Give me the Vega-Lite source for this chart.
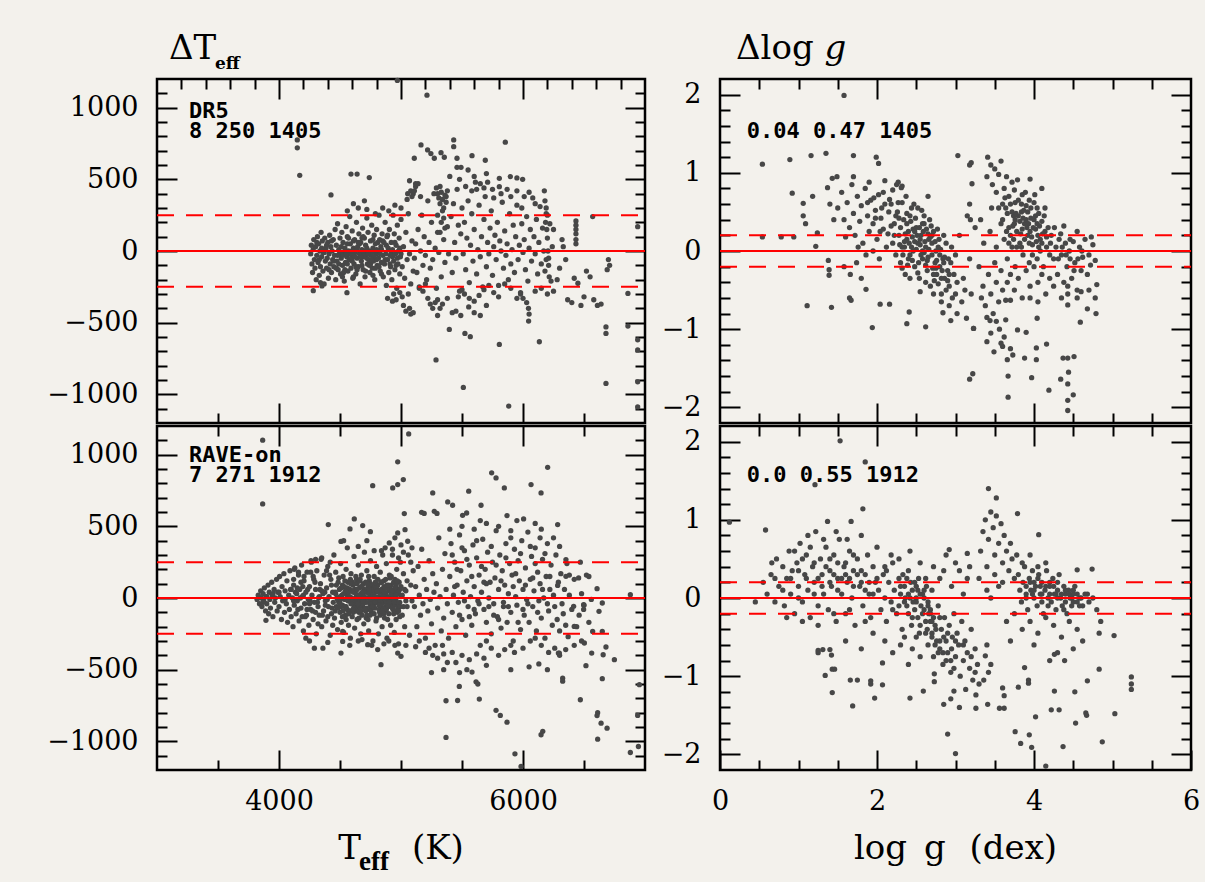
{
"$schema":"https://vega.github.io/schema/vega-lite/v6.json",
"background":"#f3f1ec",
"padding":{"left":45,"top":30,"right":5,"bottom":5},
"datasets":{
"a":[{"v":4260,"d":-20},{"v":4265,"d":40},{"v":4270,"d":-90},{"v":4275,"d":-150},{"v":4280,"d":10},{"v":4285,"d":80},{"v":4290,"d":-60},{"v":4295,"d":-120},{"v":4300,"d":30},{"v":4305,"d":-200},{"v":4310,"d":-30},{"v":4315,"d":100},{"v":4320,"d":-80},{"v":4325,"d":50},{"v":4330,"d":-170},{"v":4335,"d":0},{"v":4340,"d":-110},{"v":4345,"d":130},{"v":4350,"d":-40},{"v":4355,"d":70},{"v":4360,"d":-140},{"v":4365,"d":-10},{"v":4370,"d":-230},{"v":4375,"d":90},{"v":4380,"d":-70},{"v":4385,"d":20},{"v":4390,"d":-120},{"v":4395,"d":-50},{"v":4400,"d":60},{"v":4405,"d":-190},{"v":4410,"d":-20},{"v":4415,"d":110},{"v":4420,"d":-90},{"v":4425,"d":30},{"v":4430,"d":-150},{"v":4435,"d":0},{"v":4440,"d":-60},{"v":4445,"d":80},{"v":4450,"d":-110},{"v":4455,"d":-30},{"v":4281,"d":-277},{"v":4352,"d":-244},{"v":4557,"d":-291},
{"v":4460,"d":150},{"v":4465,"d":-200},{"v":4470,"d":40},{"v":4475,"d":-70},{"v":4480,"d":190},{"v":4485,"d":-130},{"v":4490,"d":10},{"v":4495,"d":-20},{"v":4500,"d":90},{"v":4505,"d":-160},{"v":4510,"d":-50},{"v":4515,"d":130},{"v":4520,"d":-100},{"v":4525,"d":60},{"v":4530,"d":-10},{"v":4535,"d":-210},{"v":4540,"d":20},{"v":4545,"d":-80},{"v":4550,"d":170},{"v":4555,"d":-40},{"v":4560,"d":100},{"v":4565,"d":-140},{"v":4570,"d":0},{"v":4575,"d":-60},{"v":4580,"d":240},{"v":4585,"d":50},{"v":4590,"d":-120},{"v":4595,"d":-30},{"v":4600,"d":140},{"v":4605,"d":-190},{"v":4610,"d":20},{"v":4615,"d":-90},{"v":4620,"d":80},{"v":4625,"d":-10},{"v":4630,"d":-160},{"v":4635,"d":200},{"v":4640,"d":-50},{"v":4645,"d":30},{"v":4650,"d":-110},{"v":4655,"d":120},{"v":4660,"d":-20},{"v":4665,"d":-230},{"v":4670,"d":60},{"v":4675,"d":-70},{"v":4680,"d":10},{"v":4685,"d":160},{"v":4690,"d":-130},{"v":4695,"d":-40},{"v":4700,"d":90},{"v":4705,"d":-180},{"v":4710,"d":40},{"v":4715,"d":-10},{"v":4720,"d":230},{"v":4725,"d":-90},{"v":4730,"d":130},{"v":4735,"d":-60},{"v":4740,"d":0},{"v":4745,"d":-150},{"v":4750,"d":70},{"v":4755,"d":-30},{"v":4760,"d":180},{"v":4765,"d":-120},{"v":4770,"d":20},{"v":4775,"d":-70},{"v":4780,"d":110},{"v":4785,"d":-200},{"v":4790,"d":50},{"v":4795,"d":-20},{"v":4800,"d":150},{"v":4805,"d":-100},{"v":4810,"d":0},{"v":4815,"d":-50},{"v":4820,"d":250},{"v":4825,"d":80},{"v":4830,"d":-140},{"v":4835,"d":30},{"v":4840,"d":-80},{"v":4845,"d":120},{"v":4850,"d":-30},
{"v":4520,"d":-30},{"v":4560,"d":-90},{"v":4600,"d":-70},{"v":4640,"d":10},{"v":4680,"d":-100},{"v":4720,"d":-50},{"v":4760,"d":-10},{"v":4800,"d":-60},{"v":4840,"d":10},{"v":4580,"d":-20},{"v":4620,"d":-40},{"v":4660,"d":50},{"v":4700,"d":-20},{"v":4740,"d":-100},{"v":4780,"d":-40},{"v":4820,"d":-110},{"v":4540,"d":-130},{"v":4610,"d":-180},{"v":4690,"d":0},{"v":4770,"d":-170},
{"v":4310,"d":60},{"v":4330,"d":-60},{"v":4350,"d":20},{"v":4370,"d":-10},{"v":4390,"d":40},{"v":4410,"d":-130},{"v":4430,"d":70},{"v":4450,"d":-70},{"v":4470,"d":-120},{"v":4490,"d":-90},{"v":4510,"d":30},{"v":4530,"d":-150},{"v":4550,"d":-20},{"v":4570,"d":90},{"v":4590,"d":-60},{"v":4610,"d":70},{"v":4630,"d":-110},{"v":4650,"d":60},{"v":4670,"d":-40},{"v":4690,"d":100},{"v":4710,"d":-140},{"v":4730,"d":-20},{"v":4750,"d":-90},{"v":4770,"d":80},{"v":4790,"d":-120},{"v":4810,"d":60},{"v":4830,"d":-20},{"v":4850,"d":70},{"v":4870,"d":-60},{"v":4890,"d":110},{"v":4910,"d":-90},{"v":4930,"d":-40},{"v":4950,"d":60},{"v":4970,"d":-50},{"v":4990,"d":20},{"v":4480,"d":-30},{"v":4520,"d":-180},{"v":4560,"d":50},{"v":4600,"d":0},{"v":4640,"d":-130},{"v":4680,"d":90},{"v":4720,"d":20},{"v":4760,"d":-60},{"v":4800,"d":10},{"v":4840,"d":-160},{"v":4880,"d":40},{"v":4920,"d":-10},{"v":4960,"d":-100},{"v":5000,"d":-20},{"v":4340,"d":-220},
{"v":4855,"d":-180},{"v":4860,"d":60},{"v":4865,"d":-90},{"v":4870,"d":200},{"v":4875,"d":-20},{"v":4880,"d":-240},{"v":4885,"d":100},{"v":4890,"d":-60},{"v":4895,"d":20},{"v":4900,"d":-150},{"v":4905,"d":150},{"v":4910,"d":-30},{"v":4915,"d":-110},{"v":4920,"d":60},{"v":4925,"d":-200},{"v":4930,"d":10},{"v":4935,"d":250},{"v":4940,"d":-70},{"v":4945,"d":120},{"v":4950,"d":-130},{"v":4955,"d":-20},{"v":4960,"d":40},{"v":4965,"d":-260},{"v":4970,"d":180},{"v":4975,"d":-90},{"v":4980,"d":0},{"v":4985,"d":90},{"v":4990,"d":-160},{"v":4995,"d":-40},{"v":5000,"d":220},{"v":5010,"d":-110},{"v":5020,"d":30},{"v":5030,"d":-190},{"v":5040,"d":130},{"v":5050,"d":-60},{"v":5060,"d":260},{"v":5070,"d":-20},{"v":5080,"d":-230},{"v":5090,"d":70},{"v":5100,"d":-140},
{"v":4890,"d":-330},{"v":4930,"d":-350},{"v":4960,"d":-340},{"v":5010,"d":-320},{"v":5020,"d":-380},{"v":5040,"d":-420},{"v":5070,"d":-400},{"v":5080,"d":-440},{"v":5100,"d":-430},{"v":5060,"d":-300},{"v":4990,"d":-290},{"v":4940,"d":-300},{"v":5220,"d":-330},{"v":5240,"d":-370},{"v":5260,"d":-400},{"v":5280,"d":-360},{"v":5300,"d":-340},{"v":5180,"d":-280},{"v":5150,"d":-260},{"v":5200,"d":-230},
{"v":4610,"d":330},{"v":4650,"d":300},{"v":4700,"d":350},{"v":4560,"d":280},{"v":4720,"d":290},{"v":4790,"d":260},{"v":4850,"d":300},{"v":4900,"d":280},{"v":4950,"d":320},{"v":5000,"d":300},{"v":5050,"d":360},{"v":5080,"d":420},{"v":5100,"d":400},{"v":5120,"d":450},{"v":5140,"d":470},{"v":5160,"d":380},{"v":4426,"d":391},{"v":5055,"d":400},{"v":5090,"d":380},{"v":5110,"d":420},{"v":5070,"d":490},{"v":5120,"d":470},
{"v":5110,"d":-50},{"v":5120,"d":50},{"v":5130,"d":-150},{"v":5140,"d":150},{"v":5150,"d":-250},{"v":5160,"d":0},{"v":5170,"d":250},{"v":5180,"d":-100},{"v":5190,"d":100},{"v":5200,"d":-30},{"v":5210,"d":-200},{"v":5220,"d":350},{"v":5230,"d":60},{"v":5240,"d":-120},{"v":5250,"d":200},{"v":5260,"d":-60},{"v":5270,"d":400},{"v":5280,"d":20},{"v":5290,"d":-260},{"v":5300,"d":130},{"v":5310,"d":-10},{"v":5320,"d":450},{"v":5330,"d":-180},{"v":5340,"d":280},{"v":5350,"d":80},{"v":5360,"d":-80},{"v":5370,"d":380},{"v":5380,"d":170},{"v":5390,"d":-20},{"v":5400,"d":520},{"v":5410,"d":240},{"v":5420,"d":-150},{"v":5430,"d":330},{"v":5440,"d":60},{"v":5450,"d":-50},{"v":5460,"d":430},{"v":5470,"d":180},{"v":5480,"d":-280},{"v":5490,"d":120},{"v":5500,"d":300},
{"v":5290,"d":440},{"v":5300,"d":400},{"v":5310,"d":370},{"v":5320,"d":330},{"v":5330,"d":410},{"v":5340,"d":360},{"v":5350,"d":300},{"v":5360,"d":390},{"v":5370,"d":340},{"v":5380,"d":420},{"v":5300,"d":250},{"v":5330,"d":200},{"v":5360,"d":160},{"v":5320,"d":130},{"v":5350,"d":230},
{"v":5510,"d":-20},{"v":5520,"d":200},{"v":5530,"d":-130},{"v":5540,"d":90},{"v":5550,"d":350},{"v":5560,"d":-220},{"v":5570,"d":40},{"v":5580,"d":260},{"v":5590,"d":-70},{"v":5600,"d":150},{"v":5610,"d":480},{"v":5620,"d":-160},{"v":5630,"d":10},{"v":5640,"d":320},{"v":5650,"d":-40},{"v":5660,"d":100},{"v":5670,"d":-250},{"v":5680,"d":220},{"v":5690,"d":380},{"v":5700,"d":-110},{"v":5710,"d":60},{"v":5720,"d":-20},{"v":5730,"d":160},{"v":5740,"d":280},{"v":5750,"d":-170},{"v":5760,"d":30},{"v":5770,"d":110},{"v":5780,"d":-60},{"v":5790,"d":200},{"v":5800,"d":-240},{"v":5810,"d":70},{"v":5820,"d":0},{"v":5830,"d":340},{"v":5840,"d":-120},{"v":5850,"d":140},{"v":5860,"d":-30},{"v":5870,"d":50},{"v":5880,"d":-200},{"v":5890,"d":260},{"v":5900,"d":-90},{"v":5910,"d":10},{"v":5920,"d":180},{"v":5930,"d":-150},{"v":5940,"d":100},{"v":5950,"d":320},{"v":5960,"d":-60},{"v":5970,"d":40},{"v":5980,"d":-290},{"v":5990,"d":190},{"v":6000,"d":-10},{"v":6010,"d":80},{"v":6020,"d":-130},{"v":6030,"d":240},{"v":6040,"d":-210},{"v":6050,"d":20},{"v":6060,"d":150},{"v":6070,"d":-70},{"v":6080,"d":370},{"v":6090,"d":100},{"v":6100,"d":-20},{"v":6110,"d":220},{"v":6120,"d":-160},{"v":6130,"d":60},{"v":6140,"d":310},{"v":6150,"d":-90},{"v":6160,"d":160},{"v":6170,"d":0},{"v":6180,"d":-140},{"v":6190,"d":260},{"v":6200,"d":90},{"v":6210,"d":-50},{"v":6220,"d":190},{"v":6230,"d":-210},{"v":6240,"d":30},{"v":6250,"d":150},
{"v":6180,"d":350},{"v":6190,"d":300},{"v":6200,"d":250},{"v":6185,"d":200},{"v":6195,"d":150},{"v":6205,"d":0},{"v":6210,"d":-100},{"v":6215,"d":-180},{"v":6175,"d":420},{"v":6190,"d":-60},{"v":6434,"d":210},{"v":6434,"d":180},{"v":6434,"d":150},{"v":6434,"d":120},{"v":6434,"d":80},{"v":6434,"d":50},
{"v":5164,"d":740},{"v":5218,"d":705},{"v":5245,"d":680},{"v":5273,"d":647},{"v":5432,"d":775},{"v":5432,"d":728},{"v":5582,"d":665},{"v":5691,"d":633},{"v":5855,"d":759},{"v":5896,"d":519},{"v":5950,"d":510},{"v":5997,"d":500},{"v":5806,"d":507},{"v":5806,"d":449},{"v":5109,"d":647},{"v":5328,"d":686},{"v":5355,"d":654},{"v":5459,"d":647},{"v":5459,"d":584},{"v":5492,"d":584},{"v":5550,"d":565},{"v":5600,"d":520},{"v":5650,"d":470},{"v":5700,"d":540},{"v":5750,"d":430},{"v":5530,"d":450},{"v":5580,"d":420},{"v":5620,"d":430},{"v":5480,"d":500},{"v":5710,"d":480},{"v":5760,"d":370},{"v":5870,"d":430},{"v":5950,"d":420},{"v":6010,"d":380},{"v":6050,"d":410},{"v":6100,"d":330},{"v":5900,"d":380},{"v":5990,"d":300},{"v":5820,"d":400},{"v":5680,"d":440},
{"v":5300,"d":-450},{"v":5320,"d":-400},{"v":5340,"d":-370},{"v":5380,"d":-330},{"v":5420,"d":-430},{"v":5450,"d":-420},{"v":5470,"d":-320},{"v":5500,"d":-270},{"v":5520,"d":-300},{"v":5560,"d":-330},{"v":5600,"d":-350},{"v":5640,"d":-310},{"v":5680,"d":-270},{"v":5700,"d":-380},{"v":5720,"d":-240},{"v":5760,"d":-290},{"v":5800,"d":-320},{"v":5850,"d":-230},{"v":5900,"d":-260},{"v":5950,"d":-330},{"v":5980,"d":-300},{"v":6000,"d":-330},{"v":6030,"d":-360},{"v":6045,"d":-400},{"v":6050,"d":-440},{"v":6046,"d":-489},{"v":6100,"d":-280},{"v":6150,"d":-260},{"v":6200,"d":-300},{"v":6250,"d":-280},{"v":5396,"d":-547},{"v":5524,"d":-575},{"v":5568,"d":-598},{"v":5806,"d":-652},{"v":6134,"d":-633},{"v":5287,"d":-760},{"v":5511,"d":-952},{"v":5883,"d":-1082},{"v":5490,"d":-450},{"v":5600,"d":-430},{"v":5650,"d":-450},{"v":5555,"d":-390},
{"v":6366,"d":-340},{"v":6400,"d":-360},{"v":6475,"d":-380},{"v":6420,"d":-190},{"v":6450,"d":-225},{"v":6520,"d":-140},{"v":6550,"d":-180},{"v":6580,"d":-340},{"v":6610,"d":-380},{"v":6640,"d":-370},{"v":6500,"d":-320},{"v":6700,"d":-60},{"v":6710,"d":-100},{"v":6690,"d":-130},{"v":6860,"d":-296},{"v":6860,"d":-524},{"v":6680,"d":-530},{"v":6680,"d":-575},{"v":6680,"d":-924},{"v":6940,"d":170},{"v":6940,"d":-620},{"v":6940,"d":-690},{"v":6940,"d":-913},{"v":6940,"d":-1088},{"v":6320,"d":80},{"v":6350,"d":-60},{"v":6300,"d":-120},{"v":6280,"d":-200},{"v":6330,"d":30},{"v":6571,"d":240},
{"v":4150,"d":775},{"v":4150,"d":720},{"v":4170,"d":528},{"v":4970,"d":1190},{"v":5213,"d":1087},{"v":4590,"d":537},{"v":4640,"d":537},{"v":4740,"d":512}],
"b":[{"v":3820,"d":-10},{"v":3830,"d":20},{"v":3840,"d":-40},{"v":3850,"d":50},{"v":3855,"d":0},{"v":3860,"d":-60},{"v":3870,"d":30},{"v":3875,"d":-20},{"v":3880,"d":70},{"v":3890,"d":-90},{"v":3895,"d":10},{"v":3900,"d":-40},{"v":3910,"d":90},{"v":3915,"d":-110},{"v":3920,"d":40},{"v":3925,"d":-10},{"v":3930,"d":-70},{"v":3940,"d":110},{"v":3945,"d":20},{"v":3950,"d":-130},{"v":3960,"d":60},{"v":3965,"d":-30},{"v":3970,"d":0},{"v":3980,"d":130},{"v":3985,"d":-90},{"v":3990,"d":40},{"v":4000,"d":-60},{"v":4005,"d":150},{"v":4010,"d":10},{"v":4020,"d":-150},{"v":4025,"d":80},{"v":4030,"d":-20},{"v":4040,"d":170},{"v":4045,"d":-100},{"v":4050,"d":50},{"v":4060,"d":-40},{"v":4065,"d":120},{"v":4070,"d":-170},{"v":4080,"d":20},{"v":4085,"d":-80},{"v":4090,"d":190},{"v":4095,"d":60},{"v":4100,"d":-130},{"v":3893,"d":-156},
{"v":4120,"d":-20},{"v":4135,"d":40},{"v":4155,"d":-80},{"v":4175,"d":0},{"v":4195,"d":80},{"v":4215,"d":-130},{"v":4235,"d":60},{"v":4255,"d":-20},{"v":4275,"d":-90},{"v":4295,"d":110},{"v":4315,"d":-30},{"v":4335,"d":60},{"v":4355,"d":-120},{"v":4375,"d":40},{"v":4395,"d":-10},{"v":4415,"d":160},{"v":4435,"d":-70},{"v":4120,"d":130},{"v":4190,"d":-130},{"v":4260,"d":180},{"v":4320,"d":-180},{"v":4390,"d":190},{"v":4440,"d":-190},{"v":4100,"d":60},{"v":4050,"d":-10},{"v":4000,"d":40},{"v":3950,"d":30},{"v":3900,"d":10},{"v":3870,"d":-30},
{"v":4110,"d":0},{"v":4115,"d":-200},{"v":4120,"d":90},{"v":4125,"d":-50},{"v":4130,"d":210},{"v":4140,"d":-110},{"v":4145,"d":30},{"v":4150,"d":-20},{"v":4160,"d":160},{"v":4165,"d":-160},{"v":4170,"d":60},{"v":4180,"d":-70},{"v":4185,"d":230},{"v":4190,"d":10},{"v":4200,"d":-230},{"v":4205,"d":120},{"v":4210,"d":-40},{"v":4220,"d":40},{"v":4225,"d":-120},{"v":4230,"d":180},{"v":4240,"d":-10},{"v":4245,"d":-190},{"v":4250,"d":80},{"v":4260,"d":-80},{"v":4265,"d":250},{"v":4270,"d":20},{"v":4280,"d":-150},{"v":4285,"d":130},{"v":4290,"d":-30},{"v":4300,"d":60},{"v":4305,"d":-250},{"v":4310,"d":190},{"v":4320,"d":-60},{"v":4325,"d":0},{"v":4330,"d":-120},{"v":4340,"d":100},{"v":4345,"d":270},{"v":4350,"d":-200},{"v":4360,"d":30},{"v":4365,"d":-90},{"v":4370,"d":160},{"v":4380,"d":-20},{"v":4385,"d":-160},{"v":4390,"d":70},{"v":4400,"d":220},{"v":4405,"d":-60},{"v":4410,"d":10},{"v":4420,"d":-260},{"v":4425,"d":130},{"v":4430,"d":-110},{"v":4440,"d":40},{"v":4445,"d":-30},{"v":4450,"d":300},
{"v":4150,"d":70},{"v":4200,"d":20},{"v":4250,"d":-40},{"v":4300,"d":-100},{"v":4350,"d":50},{"v":4400,"d":-130},{"v":4180,"d":110},{"v":4230,"d":-80},{"v":4280,"d":150},{"v":4330,"d":10},{"v":4380,"d":-50},{"v":4430,"d":90},
{"v":4220,"d":-280},{"v":4250,"d":-300},{"v":4290,"d":-350},{"v":4360,"d":-350},{"v":4400,"d":-310},{"v":4508,"d":-384},{"v":4522,"d":-233},{"v":4125,"d":200},{"v":4160,"d":180},{"v":4205,"d":150},{"v":4262,"d":260},{"v":4300,"d":270},{"v":4350,"d":280},{"v":4420,"d":250},{"v":4508,"d":395},{"v":4530,"d":400},{"v":4404,"d":512},
{"v":4455,"d":-140},{"v":4460,"d":40},{"v":4465,"d":180},{"v":4470,"d":-60},{"v":4475,"d":0},{"v":4480,"d":-220},{"v":4485,"d":110},{"v":4490,"d":-30},{"v":4495,"d":60},{"v":4500,"d":-100},{"v":4505,"d":240},{"v":4510,"d":-170},{"v":4515,"d":20},{"v":4520,"d":-50},{"v":4525,"d":150},{"v":4530,"d":-240},{"v":4535,"d":80},{"v":4540,"d":-10},{"v":4545,"d":-120},{"v":4550,"d":200},{"v":4555,"d":30},{"v":4560,"d":-80},{"v":4565,"d":110},{"v":4570,"d":-190},{"v":4575,"d":-20},{"v":4580,"d":60},{"v":4585,"d":-280},{"v":4590,"d":170},{"v":4595,"d":0},{"v":4600,"d":-130},{"v":4605,"d":90},{"v":4610,"d":-40},{"v":4615,"d":290},{"v":4620,"d":-210},{"v":4625,"d":40},{"v":4630,"d":-70},{"v":4635,"d":130},{"v":4640,"d":-150},{"v":4645,"d":10},{"v":4650,"d":230},{"v":4655,"d":-100},{"v":4660,"d":70},{"v":4665,"d":-30},{"v":4670,"d":-250},{"v":4675,"d":160},{"v":4680,"d":20},{"v":4685,"d":-60},{"v":4690,"d":100},{"v":4695,"d":-180},{"v":4700,"d":320},{"v":4705,"d":-10},{"v":4710,"d":50},{"v":4715,"d":-140},{"v":4720,"d":190},{"v":4725,"d":-80},{"v":4730,"d":0},{"v":4735,"d":-230},{"v":4740,"d":120},{"v":4745,"d":-40},{"v":4750,"d":260},{"v":4755,"d":30},{"v":4760,"d":-110},{"v":4765,"d":80},{"v":4770,"d":-300},{"v":4775,"d":-20},{"v":4780,"d":150},{"v":4785,"d":-70},{"v":4790,"d":40},{"v":4795,"d":-160},{"v":4800,"d":220},{"v":4805,"d":-30},{"v":4810,"d":90},{"v":4815,"d":-250},{"v":4820,"d":10},{"v":4825,"d":-100},{"v":4830,"d":180},{"v":4835,"d":-50},{"v":4840,"d":60},{"v":4845,"d":-200},{"v":4850,"d":300},{"v":4855,"d":-10},{"v":4860,"d":120},{"v":4865,"d":-140},{"v":4870,"d":30},{"v":4875,"d":-60},{"v":4880,"d":240},{"v":4885,"d":-280},{"v":4890,"d":70},{"v":4895,"d":-20},{"v":4900,"d":-110},{"v":4905,"d":160},{"v":4910,"d":0},{"v":4915,"d":-190},{"v":4920,"d":90},{"v":4925,"d":-40},{"v":4930,"d":340},{"v":4935,"d":-80},{"v":4940,"d":40},{"v":4945,"d":-240},{"v":4950,"d":130},{"v":4955,"d":-10},{"v":4960,"d":-150},{"v":4965,"d":200},{"v":4970,"d":60},{"v":4975,"d":-70},{"v":4980,"d":-320},{"v":4985,"d":110},{"v":4990,"d":-30},{"v":4995,"d":250},{"v":5000,"d":10},{"v":5010,"d":-120},{"v":5020,"d":170},{"v":5030,"d":-200},{"v":5040,"d":50},{"v":5050,"d":-60},{"v":5060,"d":300},{"v":5070,"d":-260},{"v":5080,"d":90},{"v":5090,"d":-20},{"v":5100,"d":190},
{"v":4500,"d":10},{"v":4520,"d":90},{"v":4540,"d":-60},{"v":4560,"d":20},{"v":4580,"d":-90},{"v":4600,"d":50},{"v":4620,"d":-20},{"v":4640,"d":100},{"v":4660,"d":-60},{"v":4680,"d":-120},{"v":4700,"d":-30},{"v":4720,"d":40},{"v":4740,"d":-70},{"v":4760,"d":10},{"v":4780,"d":-40},{"v":4800,"d":70},{"v":4820,"d":-80},{"v":4840,"d":0},{"v":4860,"d":-30},{"v":4880,"d":20},{"v":4900,"d":50},{"v":4920,"d":-60},{"v":4940,"d":110},{"v":4960,"d":-20},{"v":4980,"d":30},{"v":4510,"d":-60},{"v":4550,"d":-150},{"v":4590,"d":100},{"v":4630,"d":150},{"v":4670,"d":30},{"v":4710,"d":-90},{"v":4750,"d":-20},{"v":4790,"d":110},{"v":4830,"d":-120},{"v":4870,"d":-90},{"v":4910,"d":140},{"v":4950,"d":-50},{"v":4990,"d":60},{"v":4570,"d":40},{"v":4610,"d":-100},{"v":4650,"d":-10},{"v":4690,"d":-40},{"v":4730,"d":80},{"v":4770,"d":60},{"v":4810,"d":-10},{"v":4850,"d":-70},{"v":4890,"d":-150},{"v":4930,"d":10},{"v":4970,"d":-100},
{"v":4600,"d":-20},{"v":4620,"d":60},{"v":4640,"d":-90},{"v":4660,"d":120},{"v":4680,"d":-10},{"v":4700,"d":60},{"v":4720,"d":-120},{"v":4740,"d":30},{"v":4760,"d":-60},{"v":4780,"d":90},{"v":4800,"d":-140},{"v":4820,"d":40},{"v":4840,"d":-40},{"v":4860,"d":80},{"v":4880,"d":-80},{"v":4900,"d":0},{"v":4920,"d":30},{"v":4940,"d":-110},{"v":4960,"d":90},{"v":4980,"d":-40},{"v":4615,"d":-60},{"v":4635,"d":20},{"v":4655,"d":-140},{"v":4675,"d":80},{"v":4695,"d":40},{"v":4715,"d":-30},{"v":4735,"d":150},{"v":4755,"d":-90},{"v":4775,"d":0},{"v":4795,"d":70},{"v":4815,"d":-30},{"v":4835,"d":110},{"v":4855,"d":50},{"v":4875,"d":130},{"v":4895,"d":-60},{"v":4915,"d":60},{"v":4935,"d":-20},{"v":4955,"d":-90},{"v":4975,"d":40},{"v":4995,"d":-60},
{"v":4460,"d":-90},{"v":4470,"d":90},{"v":4480,"d":-10},{"v":4490,"d":140},{"v":4500,"d":-40},{"v":4510,"d":70},{"v":4520,"d":-130},{"v":4530,"d":30},{"v":4540,"d":120},{"v":4550,"d":-60},{"v":4560,"d":70},{"v":4570,"d":-110},{"v":4580,"d":10},{"v":4590,"d":-40},{"v":4600,"d":110},{"v":4610,"d":40},{"v":4620,"d":-70},{"v":4630,"d":0},{"v":4640,"d":60},{"v":4650,"d":-50},{"v":4660,"d":20},{"v":4670,"d":-90},{"v":4680,"d":80},{"v":4690,"d":-20},{"v":4700,"d":10},{"v":4710,"d":110},{"v":4720,"d":-70},{"v":4730,"d":-150},{"v":4740,"d":60},{"v":4750,"d":100},{"v":4760,"d":-40},{"v":4770,"d":20},{"v":4780,"d":-110},{"v":4790,"d":-30},{"v":4800,"d":0},{"v":4810,"d":130},{"v":4820,"d":-50},{"v":4830,"d":50},{"v":4840,"d":110},{"v":4850,"d":20},{"v":4860,"d":-110},{"v":4870,"d":70},{"v":4880,"d":-30},{"v":4890,"d":0},{"v":4900,"d":90},{"v":4910,"d":-50},{"v":4920,"d":150},{"v":4930,"d":-70},{"v":4940,"d":0},{"v":4950,"d":70},{"v":4960,"d":20},{"v":4970,"d":120},{"v":4980,"d":-90},{"v":4990,"d":-130},{"v":5000,"d":80},{"v":5010,"d":20},{"v":5020,"d":-60},{"v":5030,"d":60},{"v":5040,"d":-20},{"v":5050,"d":120},{"v":4465,"d":30},{"v":4485,"d":-70},{"v":4505,"d":-10},{"v":4525,"d":-90},{"v":4545,"d":50},{"v":4565,"d":-20},{"v":4585,"d":130},{"v":4605,"d":-80},{"v":4625,"d":100},{"v":4645,"d":-40},{"v":4665,"d":130},{"v":4685,"d":40},{"v":4705,"d":-80},{"v":4725,"d":100},{"v":4745,"d":-120},{"v":4765,"d":-60},{"v":4785,"d":10},{"v":4805,"d":50},{"v":4825,"d":-10},{"v":4845,"d":-90},{"v":4865,"d":40},{"v":4885,"d":90},{"v":4905,"d":-30},{"v":4925,"d":50},{"v":4945,"d":-30},
{"v":4727,"d":-326},{"v":4809,"d":-360},{"v":4836,"d":-465},{"v":4900,"d":-300},{"v":4950,"d":-330},{"v":4973,"d":-384},{"v":5000,"d":-407},{"v":4650,"d":-300},{"v":4680,"d":-290},{"v":4522,"d":-303},{"v":4760,"d":-330},{"v":4860,"d":-320},{"v":5040,"d":-330},{"v":4580,"d":-330},
{"v":4904,"d":384},{"v":4973,"d":454},{"v":5033,"d":477},{"v":5027,"d":589},{"v":4749,"d":463},{"v":4686,"d":505},{"v":4617,"d":552},{"v":4582,"d":482},{"v":4930,"d":300},{"v":5055,"d":396},{"v":5090,"d":350},{"v":5000,"d":370},{"v":4870,"d":350},{"v":4840,"d":330},{"v":4980,"d":280},{"v":5080,"d":250},{"v":4780,"d":330},{"v":4650,"d":360},{"v":4720,"d":400},{"v":4560,"d":350},{"v":4950,"d":420},{"v":5020,"d":320},
{"v":5110,"d":-60},{"v":5120,"d":80},{"v":5130,"d":-200},{"v":5140,"d":220},{"v":5150,"d":20},{"v":5160,"d":-120},{"v":5170,"d":340},{"v":5180,"d":-40},{"v":5190,"d":130},{"v":5200,"d":-280},{"v":5210,"d":60},{"v":5220,"d":-90},{"v":5230,"d":260},{"v":5240,"d":-10},{"v":5250,"d":-180},{"v":5260,"d":170},{"v":5270,"d":40},{"v":5280,"d":-330},{"v":5290,"d":100},{"v":5300,"d":-70},{"v":5310,"d":420},{"v":5320,"d":10},{"v":5330,"d":-230},{"v":5340,"d":200},{"v":5350,"d":-140},{"v":5360,"d":310},{"v":5370,"d":60},{"v":5380,"d":-40},{"v":5390,"d":-280},{"v":5400,"d":150},{"v":5410,"d":380},{"v":5420,"d":-100},{"v":5430,"d":20},{"v":5440,"d":250},{"v":5450,"d":-200},{"v":5460,"d":90},{"v":5470,"d":-30},{"v":5480,"d":440},{"v":5490,"d":190},{"v":5500,"d":-150},{"v":5510,"d":40},{"v":5520,"d":330},{"v":5530,"d":-260},{"v":5540,"d":120},{"v":5550,"d":-60},{"v":5560,"d":230},{"v":5570,"d":10},{"v":5580,"d":-190},{"v":5590,"d":370},{"v":5600,"d":80},{"v":5610,"d":-110},{"v":5620,"d":280},{"v":5630,"d":-20},{"v":5640,"d":160},{"v":5650,"d":-330},{"v":5660,"d":40},{"v":5670,"d":410},{"v":5680,"d":-80},{"v":5690,"d":200},{"v":5700,"d":-170},{"v":5710,"d":320},{"v":5720,"d":0},{"v":5730,"d":110},{"v":5740,"d":-250},{"v":5750,"d":250},{"v":5760,"d":-40},{"v":5770,"d":140},{"v":5780,"d":470},{"v":5790,"d":-130},{"v":5800,"d":60},{"v":5810,"d":300},{"v":5820,"d":-210},{"v":5830,"d":190},{"v":5840,"d":-60},{"v":5850,"d":90},{"v":5860,"d":380},{"v":5870,"d":-170},{"v":5880,"d":30},{"v":5890,"d":240},{"v":5900,"d":-100},{"v":5910,"d":160},{"v":5920,"d":-300},{"v":5930,"d":340},{"v":5940,"d":10},{"v":5950,"d":-50},{"v":5960,"d":260},{"v":5970,"d":120},{"v":5980,"d":-220},{"v":5990,"d":400},{"v":6000,"d":60},{"v":6010,"d":-120},{"v":6020,"d":210},{"v":6030,"d":-10},{"v":6040,"d":460},{"v":6050,"d":-170},{"v":6060,"d":130},{"v":6070,"d":290},{"v":6080,"d":-60},{"v":6090,"d":50},{"v":6100,"d":350},{"v":6110,"d":-230},{"v":6120,"d":180},{"v":6130,"d":-20},{"v":6140,"d":100},{"v":6150,"d":-140},{"v":6160,"d":270},{"v":6170,"d":0},{"v":6180,"d":-280},{"v":6190,"d":150},{"v":6200,"d":380},{"v":6210,"d":-90},{"v":6220,"d":60},{"v":6230,"d":230},{"v":6240,"d":-190},{"v":6250,"d":20},{"v":6260,"d":-60},{"v":6270,"d":300},{"v":6280,"d":-150},{"v":6290,"d":110},{"v":6300,"d":-230},{"v":6310,"d":170},{"v":6320,"d":-40},{"v":6330,"d":-110},{"v":6340,"d":60},{"v":6350,"d":-190},{"v":6360,"d":240},{"v":6370,"d":-270},{"v":6380,"d":20},{"v":6400,"d":-80},{"v":6420,"d":130},{"v":6440,"d":-200},{"v":6460,"d":-120},{"v":6480,"d":30},{"v":6500,"d":-50},{"v":6520,"d":160},{"v":6540,"d":-170},{"v":6560,"d":-10},
{"v":5420,"d":300},{"v":5460,"d":200},{"v":5500,"d":350},{"v":5540,"d":270},{"v":5580,"d":150},{"v":5620,"d":400},{"v":5660,"d":220},{"v":5700,"d":100},{"v":5740,"d":360},{"v":5780,"d":230},{"v":5820,"d":120},{"v":5860,"d":280},{"v":5900,"d":420},{"v":5940,"d":170},{"v":5980,"d":310},{"v":6020,"d":90},{"v":6060,"d":360},{"v":6100,"d":240},{"v":6140,"d":420},{"v":6180,"d":310},{"v":6220,"d":150},{"v":5440,"d":80},{"v":5520,"d":-20},{"v":5600,"d":-80},{"v":5680,"d":110},{"v":5760,"d":-120},{"v":5840,"d":-30},{"v":5920,"d":80},{"v":6000,"d":-80},{"v":6080,"d":140},{"v":6160,"d":60},{"v":5480,"d":-120},{"v":5560,"d":-130},{"v":5640,"d":-40},{"v":5720,"d":-60},{"v":5800,"d":-150},{"v":5880,"d":-60},{"v":5960,"d":-170},{"v":6040,"d":-40},{"v":6120,"d":-100},{"v":6200,"d":-40},
{"v":5120,"d":-340},{"v":5200,"d":-380},{"v":5230,"d":-350},{"v":5300,"d":-420},{"v":5350,"d":-390},{"v":5380,"d":-450},{"v":5420,"d":-380},{"v":5450,"d":-450},{"v":5500,"d":-400},{"v":5560,"d":-430},{"v":5620,"d":-390},{"v":5680,"d":-420},{"v":5740,"d":-350},{"v":5800,"d":-400},{"v":5850,"d":-360},{"v":5930,"d":-380},{"v":6000,"d":-350},{"v":6060,"d":-300},{"v":6150,"d":-330},{"v":6210,"d":-380},{"v":6260,"d":-350},{"v":6300,"d":-400},{"v":6350,"d":-360},{"v":6420,"d":-330},{"v":6480,"d":-300},{"v":5150,"d":-300},{"v":5260,"d":-400},{"v":5340,"d":-330},{"v":5700,"d":-300},{"v":5900,"d":-330},{"v":6100,"d":-280},{"v":6290,"d":-384},
{"v":3866,"d":1101},{"v":3866,"d":656},{"v":4973,"d":950},{"v":5063,"d":1145},{"v":5019,"d":826},{"v":4932,"d":768},{"v":4973,"d":791},{"v":4768,"d":784},{"v":6202,"d":912},{"v":5743,"d":873},{"v":5779,"d":838},{"v":5847,"d":768},{"v":6066,"d":791},{"v":6148,"d":733},{"v":5555,"d":745},{"v":5260,"d":733},{"v":5383,"d":670},{"v":5423,"d":647},{"v":5656,"d":647},{"v":5505,"d":577},{"v":5538,"d":593},{"v":5169,"d":598},{"v":5190,"d":590},{"v":5273,"d":605},{"v":5295,"d":590},{"v":5869,"d":575},{"v":6284,"d":512},{"v":6005,"d":552},{"v":5700,"d":520},{"v":5800,"d":500},{"v":5950,"d":540},{"v":6100,"d":520},{"v":5400,"d":480},{"v":5600,"d":480},{"v":5500,"d":500},{"v":6150,"d":480},{"v":6250,"d":420},{"v":6300,"d":360},{"v":5900,"d":470},{"v":5650,"d":540},
{"v":5369,"d":-973},{"v":5369,"d":-717},{"v":5464,"d":-715},{"v":5478,"d":-617},{"v":5582,"d":-517},{"v":5615,"d":-585},{"v":5630,"d":-600},{"v":5642,"d":-705},{"v":5779,"d":-784},{"v":5814,"d":-819},{"v":5869,"d":-866},{"v":5934,"d":-1087},{"v":5984,"d":-1175},{"v":6148,"d":-954},{"v":6162,"d":-930},{"v":6470,"d":-710},{"v":6612,"d":-800},{"v":6607,"d":-820},{"v":6640,"d":-873},{"v":6689,"d":-908},{"v":6612,"d":-985},{"v":6954,"d":-605},{"v":6940,"d":-819},{"v":6880,"d":-1078},{"v":6946,"d":-1036},{"v":6325,"d":-560},{"v":6325,"d":-580},{"v":6516,"d":-472},{"v":6650,"d":-563},{"v":6749,"d":-430},{"v":6298,"d":-384},{"v":5540,"d":-500},{"v":5480,"d":-520},{"v":5700,"d":-470},{"v":5900,"d":-500},{"v":6050,"d":-480},{"v":6130,"d":-460},{"v":6200,"d":-500},{"v":5250,"d":-520},{"v":5350,"d":-500},
{"v":6880,"d":23},{"v":6607,"d":65},{"v":6650,"d":-35},{"v":6623,"d":-93},{"v":6497,"d":-47},{"v":6497,"d":-80},{"v":6415,"d":-58},{"v":6420,"d":-198},{"v":6456,"d":140},{"v":6352,"d":151},{"v":6380,"d":160},{"v":6284,"d":88},{"v":6352,"d":268},{"v":6503,"d":-314},{"v":6571,"d":-233},{"v":6650,"d":-233},{"v":6680,"d":-342},{"v":6563,"d":-384},{"v":6657,"d":-396},{"v":6540,"d":150},{"v":6470,"d":250}],
"c":[{"v":1.50,"d":0.55},{"v":1.55,"d":0.75},{"v":1.58,"d":0.40},{"v":1.62,"d":0.62},{"v":1.65,"d":0.30},{"v":1.68,"d":0.85},{"v":1.70,"d":0.48},{"v":1.72,"d":0.20},{"v":1.75,"d":0.70},{"v":1.78,"d":0.38},{"v":1.80,"d":0.58},{"v":1.82,"d":0.10},{"v":1.85,"d":0.80},{"v":1.88,"d":0.45},{"v":1.90,"d":0.25},{"v":1.92,"d":0.65},{"v":1.95,"d":0.35},{"v":1.98,"d":0.52},{"v":2.00,"d":0.15},{"v":2.02,"d":0.72},{"v":2.05,"d":0.42},{"v":2.08,"d":0.28},{"v":2.10,"d":0.60},{"v":2.12,"d":0.05},{"v":2.15,"d":0.50},{"v":2.18,"d":0.32},{"v":2.20,"d":0.78},{"v":1.60,"d":0.18},{"v":1.76,"d":0.05},{"v":1.86,"d":-0.05},{"v":1.95,"d":0.00},{"v":2.03,"d":-0.10},{"v":1.70,"d":0.95},{"v":1.90,"d":0.88},{"v":2.10,"d":0.90},{"v":2.25,"d":0.85},{"v":1.45,"d":0.40},{"v":1.40,"d":0.60},{"v":1.58,"d":-0.20},{"v":1.66,"d":-0.30},{"v":1.74,"d":-0.15},{"v":1.80,"d":-0.35},
{"v":2.20,"d":0.10},{"v":2.22,"d":0.35},{"v":2.24,"d":-0.05},{"v":2.26,"d":0.50},{"v":2.28,"d":0.20},{"v":2.30,"d":-0.15},{"v":2.32,"d":0.05},{"v":2.34,"d":0.40},{"v":2.36,"d":-0.30},{"v":2.38,"d":0.15},{"v":2.40,"d":0.25},{"v":2.42,"d":-0.05},{"v":2.44,"d":0.55},{"v":2.46,"d":0.00},{"v":2.48,"d":-0.20},{"v":2.50,"d":0.30},{"v":2.52,"d":0.10},{"v":2.54,"d":-0.35},{"v":2.56,"d":0.20},{"v":2.58,"d":-0.10},{"v":2.60,"d":0.45},{"v":2.62,"d":0.05},{"v":2.64,"d":-0.25},{"v":2.66,"d":0.15},{"v":2.68,"d":-0.45},{"v":2.70,"d":-0.05},{"v":2.72,"d":0.25},{"v":2.74,"d":-0.15},{"v":2.76,"d":-0.30},{"v":2.78,"d":0.05},{"v":2.80,"d":-0.20},{"v":2.82,"d":-0.55},{"v":2.84,"d":-0.10},{"v":2.86,"d":-0.35},{"v":2.88,"d":0.10},{"v":2.90,"d":-0.25},{"v":2.92,"d":-0.45},{"v":2.94,"d":-0.15},{"v":2.96,"d":-0.60},{"v":2.98,"d":-0.30},{"v":3.00,"d":-0.05},{"v":3.02,"d":-0.40},
{"v":2.30,"d":0.30},{"v":2.35,"d":0.12},{"v":2.40,"d":-0.10},{"v":2.45,"d":0.18},{"v":2.50,"d":0.02},{"v":2.55,"d":0.08},{"v":2.60,"d":-0.02},{"v":2.65,"d":-0.08},{"v":2.70,"d":0.10},{"v":2.75,"d":0.00},{"v":2.33,"d":-0.05},{"v":2.43,"d":0.38},{"v":2.53,"d":-0.15},{"v":2.63,"d":0.28},{"v":2.73,"d":-0.38},{"v":2.83,"d":-0.25},{"v":2.38,"d":0.48},{"v":2.48,"d":0.12},{"v":2.58,"d":0.35},{"v":2.68,"d":0.18},{"v":2.78,"d":-0.42},{"v":2.88,"d":-0.50},{"v":2.27,"d":0.62},{"v":2.37,"d":0.70},{"v":2.47,"d":0.60},{"v":2.57,"d":0.52},{"v":2.67,"d":0.40},{"v":2.77,"d":0.28},{"v":2.85,"d":0.20},{"v":2.95,"d":0.05},{"v":2.52,"d":-0.28},{"v":2.62,"d":-0.40},{"v":2.72,"d":-0.55},{"v":2.82,"d":-0.65},{"v":2.92,"d":-0.70},{"v":3.00,"d":-0.55},{"v":2.42,"d":-0.35},{"v":2.32,"d":-0.22},
{"v":2.36,"d":0.22},{"v":2.46,"d":0.28},{"v":2.56,"d":-0.05},{"v":2.66,"d":0.02},{"v":2.76,"d":-0.12},{"v":2.86,"d":-0.08},{"v":2.41,"d":0.10},{"v":2.51,"d":0.20},{"v":2.61,"d":0.12},{"v":2.71,"d":-0.22},{"v":2.81,"d":0.02},{"v":2.91,"d":-0.10},{"v":2.29,"d":0.08},{"v":2.39,"d":-0.18},{"v":2.49,"d":0.42},{"v":2.59,"d":0.25},{"v":2.69,"d":0.32},{"v":2.79,"d":0.15},{"v":2.14,"d":0.22},{"v":2.06,"d":0.55},{"v":1.96,"d":0.68},{"v":2.16,"d":0.66},{"v":2.24,"d":0.45},{"v":2.04,"d":0.25},
{"v":2.35,"d":0.05},{"v":2.45,"d":-0.12},{"v":2.55,"d":0.15},{"v":2.65,"d":0.22},{"v":2.75,"d":-0.22},{"v":2.85,"d":-0.15},{"v":2.44,"d":0.05},{"v":2.54,"d":0.30},{"v":2.64,"d":-0.12},{"v":2.74,"d":0.12},{"v":2.58,"d":0.00},{"v":2.48,"d":0.25},{"v":2.38,"d":0.35},{"v":2.28,"d":0.42},{"v":2.62,"d":-0.18},{"v":2.72,"d":-0.30},{"v":2.82,"d":-0.35},{"v":2.92,"d":-0.30},{"v":2.52,"d":0.55},{"v":2.42,"d":0.45},{"v":2.18,"d":0.60},{"v":2.08,"d":0.75},{"v":1.98,"d":0.42},{"v":1.88,"d":0.62},{"v":2.32,"d":0.62},{"v":2.22,"d":0.20},{"v":2.70,"d":0.20},{"v":2.60,"d":0.35},{"v":2.80,"d":-0.05},{"v":2.90,"d":-0.38},
{"v":0.54,"d":1.11},{"v":0.54,"d":0.18},{"v":0.78,"d":0.18},{"v":0.89,"d":1.17},{"v":0.92,"d":0.74},{"v":0.94,"d":0.18},{"v":1.06,"d":0.61},{"v":1.06,"d":0.45},{"v":1.09,"d":0.35},{"v":1.11,"d":-0.70},{"v":1.16,"d":1.22},{"v":1.18,"d":0.70},{"v":1.22,"d":0.06},{"v":1.24,"d":0.23},{"v":1.35,"d":1.25},{"v":1.37,"d":0.81},{"v":1.38,"d":-0.12},{"v":1.39,"d":-0.24},{"v":1.39,"d":-0.31},{"v":1.42,"d":-0.72},{"v":1.43,"d":0.93},{"v":1.49,"d":0.95},{"v":1.58,"d":1.99},{"v":1.70,"d":1.22},{"v":1.86,"d":-0.49},{"v":1.94,"d":-0.98},{"v":2.04,"d":-0.68},{"v":2.16,"d":-0.68},{"v":2.38,"d":-0.93},{"v":2.62,"d":-0.97},{"v":2.55,"d":-0.52},{"v":2.41,"d":-0.78},{"v":1.65,"d":-0.60},{"v":1.67,"d":-0.63},{"v":1.99,"d":1.20},{"v":2.02,"d":1.12},{"v":2.27,"d":0.88},{"v":2.32,"d":0.83},{"v":2.31,"d":0.81},{"v":2.65,"d":0.70},
{"v":3.05,"d":0.20},{"v":3.10,"d":-0.35},{"v":3.14,"d":-0.86},{"v":3.18,"d":-0.10},{"v":3.20,"d":-0.55},{"v":3.23,"d":-0.99},{"v":3.15,"d":0.45},{"v":3.25,"d":0.30},{"v":2.84,"d":-0.79},{"v":2.94,"d":-0.89},{"v":3.02,"d":-0.80},{"v":3.08,"d":-0.65},{"v":3.12,"d":-0.50},{"v":3.18,"d":1.10},{"v":3.20,"d":1.13},{"v":3.03,"d":1.22},{"v":3.21,"d":0.86},{"v":3.18,"d":0.60},{"v":3.19,"d":0.40},
{"v":3.41,"d":1.20},{"v":3.45,"d":1.10},{"v":3.50,"d":1.05},{"v":3.55,"d":0.98},{"v":3.58,"d":1.15},{"v":3.40,"d":0.95},{"v":3.47,"d":0.85},{"v":3.52,"d":0.75},{"v":3.62,"d":0.80},{"v":3.68,"d":0.70},{"v":3.60,"d":0.60},{"v":3.55,"d":0.55},{"v":3.65,"d":0.95},{"v":3.72,"d":0.88},{"v":3.79,"d":0.91},{"v":3.95,"d":0.92},{"v":4.10,"d":0.80},{"v":3.75,"d":0.78},{"v":3.85,"d":0.72},
{"v":3.60,"d":0.40},{"v":3.62,"d":0.15},{"v":3.64,"d":0.55},{"v":3.66,"d":-0.10},{"v":3.68,"d":0.30},{"v":3.70,"d":0.60},{"v":3.72,"d":0.05},{"v":3.74,"d":0.45},{"v":3.76,"d":-0.20},{"v":3.78,"d":0.25},{"v":3.80,"d":0.65},{"v":3.82,"d":0.10},{"v":3.84,"d":0.50},{"v":3.86,"d":-0.05},{"v":3.88,"d":0.35},{"v":3.90,"d":0.58},{"v":3.92,"d":0.20},{"v":3.94,"d":-0.15},{"v":3.96,"d":0.42},{"v":3.98,"d":0.08},{"v":4.00,"d":0.62},{"v":4.02,"d":0.28},{"v":4.04,"d":-0.10},{"v":4.06,"d":0.48},{"v":4.08,"d":0.15},{"v":4.10,"d":0.38},{"v":4.12,"d":-0.20},{"v":4.14,"d":0.55},{"v":4.16,"d":0.05},{"v":4.18,"d":0.30},{"v":4.20,"d":-0.05},
{"v":3.70,"d":0.20},{"v":3.75,"d":0.35},{"v":3.80,"d":0.45},{"v":3.85,"d":0.28},{"v":3.90,"d":0.40},{"v":3.95,"d":0.25},{"v":4.00,"d":0.40},{"v":4.05,"d":0.20},{"v":4.10,"d":0.10},{"v":3.72,"d":0.50},{"v":3.82,"d":0.38},{"v":3.92,"d":0.50},{"v":4.02,"d":0.45},{"v":3.78,"d":0.05},{"v":3.88,"d":0.15},{"v":3.98,"d":-0.05},{"v":4.08,"d":0.00},{"v":3.65,"d":0.25},{"v":3.84,"d":0.60},{"v":3.94,"d":0.65},{"v":4.04,"d":0.55},{"v":4.14,"d":0.25},{"v":3.70,"d":-0.30},{"v":3.80,"d":-0.35},{"v":3.90,"d":-0.25},{"v":4.00,"d":-0.20},
{"v":3.73,"d":0.32},{"v":3.83,"d":0.22},{"v":3.93,"d":0.35},{"v":4.03,"d":0.12},{"v":3.77,"d":0.48},{"v":3.87,"d":0.52},{"v":3.97,"d":0.18},{"v":4.07,"d":0.32},{"v":3.68,"d":0.10},{"v":3.99,"d":0.30},{"v":4.13,"d":0.45},{"v":3.63,"d":0.68},{"v":3.76,"d":0.62},{"v":3.89,"d":0.75},{"v":4.01,"d":0.72},{"v":3.58,"d":0.35},
{"v":3.74,"d":0.15},{"v":3.84,"d":0.05},{"v":3.94,"d":0.10},{"v":4.04,"d":0.35},{"v":3.86,"d":0.42},{"v":3.96,"d":0.55},{"v":4.06,"d":0.05},{"v":4.16,"d":0.18},{"v":3.76,"d":0.40},{"v":3.66,"d":0.48},{"v":3.91,"d":0.30},{"v":4.11,"d":0.22},{"v":4.21,"d":0.10},{"v":4.31,"d":-0.10},{"v":4.41,"d":-0.05},{"v":4.51,"d":-0.25},{"v":4.61,"d":0.00},{"v":4.36,"d":0.05},{"v":4.46,"d":0.15},{"v":4.56,"d":-0.10},
{"v":4.22,"d":0.20},{"v":4.25,"d":-0.10},{"v":4.28,"d":0.05},{"v":4.30,"d":-0.30},{"v":4.32,"d":0.15},{"v":4.35,"d":-0.05},{"v":4.38,"d":-0.40},{"v":4.40,"d":0.10},{"v":4.42,"d":-0.20},{"v":4.45,"d":0.00},{"v":4.48,"d":-0.35},{"v":4.50,"d":0.12},{"v":4.52,"d":-0.15},{"v":4.55,"d":-0.50},{"v":4.58,"d":0.05},{"v":4.60,"d":-0.25},{"v":4.62,"d":-0.08},{"v":4.65,"d":0.15},{"v":4.68,"d":-0.30},{"v":4.70,"d":-0.05},{"v":4.72,"d":-0.18},{"v":4.75,"d":0.08},{"v":4.78,"d":-0.12},{"v":4.38,"d":0.32},{"v":4.55,"d":0.25},{"v":4.73,"d":0.18},{"v":4.80,"d":-0.43},{"v":4.78,"d":-0.60},{"v":4.79,"d":-0.80},{"v":4.70,"d":-0.50},{"v":4.60,"d":-0.52},{"v":4.55,"d":-0.60},{"v":4.43,"d":-0.69},{"v":4.43,"d":-0.55},{"v":4.43,"d":-0.45},{"v":4.35,"d":-0.60},{"v":4.59,"d":-0.91},{"v":4.68,"d":-0.74},{"v":4.26,"d":0.30},{"v":4.34,"d":0.22},{"v":4.46,"d":-0.10},
{"v":3.30,"d":-0.20},{"v":3.35,"d":-0.45},{"v":3.38,"d":-0.70},{"v":3.42,"d":-0.30},{"v":3.45,"d":-0.55},{"v":3.48,"d":-0.80},{"v":3.50,"d":-0.15},{"v":3.52,"d":-0.40},{"v":3.55,"d":-0.65},{"v":3.58,"d":-0.25},{"v":3.60,"d":-0.50},{"v":3.64,"d":-0.88},{"v":3.64,"d":-0.63},{"v":3.70,"d":-0.63},{"v":3.66,"d":-0.40},{"v":3.33,"d":-0.60},{"v":3.40,"d":-0.85},{"v":3.36,"d":0.10},{"v":3.44,"d":0.25},{"v":3.52,"d":0.05},{"v":3.32,"d":0.40},{"v":3.46,"d":0.55},
{"v":3.18,"d":-1.64},{"v":3.22,"d":-1.57},{"v":3.40,"d":-1.16},{"v":3.49,"d":-1.29},{"v":3.60,"d":-1.22},{"v":3.66,"d":-1.39},{"v":3.73,"d":-1.33},{"v":3.67,"d":-1.87},{"v":3.67,"d":-1.60},{"v":3.79,"d":-1.01},{"v":3.90,"d":-1.04},{"v":3.88,"d":-1.37},{"v":3.97,"d":-1.62},{"v":4.03,"d":-1.24},{"v":4.03,"d":-1.39},{"v":4.16,"d":-1.19},{"v":4.19,"d":-1.78},{"v":4.34,"d":-1.64},{"v":4.37,"d":-1.37},{"v":4.43,"d":-1.37},{"v":4.51,"d":-1.35},{"v":4.44,"d":-1.55},{"v":4.43,"d":-1.70},{"v":4.43,"d":-1.91},{"v":4.43,"d":-2.04},{"v":4.50,"d":-1.84},{"v":3.52,"d":-0.90},{"v":3.44,"d":-0.89},{"v":3.23,"d":-0.99},{"v":4.04,"d":-0.86},{"v":3.95,"d":-0.60},{"v":3.56,"d":-1.00},{"v":3.62,"d":-1.10},{"v":3.70,"d":-1.25},{"v":3.58,"d":-1.18},{"v":3.45,"d":-1.05},
{"v":3.75,"d":-0.50},{"v":3.85,"d":-0.60},{"v":3.95,"d":-0.45},{"v":4.05,"d":-0.40},{"v":4.15,"d":-0.55},{"v":4.25,"d":-0.45},{"v":4.05,"d":-0.65},{"v":4.10,"d":-0.30},{"v":4.20,"d":-0.35}],
"d":[{"v":0.55,"d":0.20},{"v":0.60,"d":0.05},{"v":0.65,"d":0.30},{"v":0.70,"d":-0.05},{"v":0.72,"d":0.50},{"v":0.75,"d":0.15},{"v":0.80,"d":0.40},{"v":0.82,"d":-0.10},{"v":0.85,"d":0.25},{"v":0.88,"d":0.60},{"v":0.90,"d":0.05},{"v":0.92,"d":0.35},{"v":0.95,"d":-0.20},{"v":0.98,"d":0.45},{"v":1.00,"d":0.15},{"v":1.02,"d":0.70},{"v":1.05,"d":-0.05},{"v":1.08,"d":0.30},{"v":1.10,"d":0.55},{"v":1.12,"d":0.10},{"v":1.15,"d":-0.25},{"v":1.18,"d":0.40},{"v":1.20,"d":0.20},{"v":1.22,"d":0.85},{"v":1.25,"d":-0.10},{"v":1.28,"d":0.50},{"v":1.30,"d":0.30},{"v":1.32,"d":0.05},{"v":1.35,"d":0.65},{"v":1.38,"d":-0.15},{"v":1.40,"d":0.35},{"v":1.42,"d":0.15},{"v":1.45,"d":0.55},{"v":1.48,"d":-0.30},{"v":1.50,"d":0.25},{"v":1.52,"d":0.75},{"v":1.55,"d":0.05},{"v":1.58,"d":0.40},{"v":1.60,"d":-0.20},{"v":1.62,"d":0.20},{"v":1.65,"d":0.60},{"v":1.68,"d":0.00},{"v":1.70,"d":0.35},{"v":1.72,"d":-0.35},{"v":1.75,"d":0.50},{"v":1.78,"d":0.15},{"v":1.80,"d":0.80},{"v":1.82,"d":-0.10},{"v":1.85,"d":0.30},{"v":1.88,"d":0.55},{"v":1.90,"d":0.05},{"v":1.92,"d":-0.25},{"v":1.95,"d":0.40},{"v":1.98,"d":0.20},{"v":2.00,"d":0.65},
{"v":0.70,"d":0.25},{"v":0.90,"d":0.25},{"v":1.10,"d":0.25},{"v":1.30,"d":0.15},{"v":1.50,"d":0.10},{"v":1.70,"d":0.15},{"v":1.90,"d":0.20},{"v":0.80,"d":0.10},{"v":1.00,"d":0.35},{"v":1.20,"d":0.45},{"v":1.40,"d":0.50},{"v":1.60,"d":0.45},{"v":1.80,"d":0.35},{"v":1.05,"d":0.50},{"v":1.25,"d":0.25},{"v":1.45,"d":0.30},{"v":1.65,"d":0.25},{"v":1.85,"d":0.10},{"v":1.15,"d":0.65},{"v":1.35,"d":0.40},{"v":1.55,"d":0.25},{"v":1.75,"d":0.30},{"v":1.95,"d":0.05},{"v":0.95,"d":0.60},{"v":1.12,"d":0.80},{"v":1.32,"d":0.75},{"v":1.48,"d":0.85},{"v":1.62,"d":0.75},{"v":0.85,"d":-0.25},{"v":1.05,"d":-0.30},{"v":1.25,"d":-0.35},{"v":1.45,"d":-0.20},{"v":1.65,"d":-0.15},{"v":1.85,"d":-0.30},
{"v":1.40,"d":0.20},{"v":1.60,"d":0.30},{"v":1.80,"d":0.20},{"v":2.00,"d":0.25},{"v":1.20,"d":0.05},{"v":1.00,"d":0.00},{"v":1.50,"d":0.45},{"v":1.70,"d":0.55},{"v":2.10,"d":0.40},
{"v":2.02,"d":0.10},{"v":2.05,"d":-0.15},{"v":2.08,"d":0.30},{"v":2.10,"d":0.00},{"v":2.12,"d":-0.30},{"v":2.15,"d":0.20},{"v":2.18,"d":-0.05},{"v":2.20,"d":0.45},{"v":2.22,"d":0.10},{"v":2.25,"d":-0.20},{"v":2.28,"d":0.25},{"v":2.30,"d":0.05},{"v":2.32,"d":-0.40},{"v":2.35,"d":0.15},{"v":2.38,"d":-0.10},{"v":2.40,"d":0.35},{"v":2.42,"d":0.00},{"v":2.45,"d":-0.25},{"v":2.48,"d":0.20},{"v":2.50,"d":-0.05},{"v":2.52,"d":0.10},{"v":2.55,"d":-0.35},{"v":2.58,"d":0.05},{"v":2.60,"d":-0.15},{"v":2.62,"d":0.25},{"v":2.65,"d":-0.05},{"v":2.68,"d":-0.30},{"v":2.70,"d":0.10},
{"v":2.30,"d":0.15},{"v":2.35,"d":-0.05},{"v":2.40,"d":0.05},{"v":2.45,"d":0.10},{"v":2.50,"d":0.00},{"v":2.55,"d":0.05},{"v":2.60,"d":0.00},{"v":2.65,"d":-0.10},{"v":2.38,"d":0.25},{"v":2.48,"d":-0.15},{"v":2.58,"d":-0.20},{"v":2.68,"d":-0.15},{"v":2.33,"d":0.30},{"v":2.43,"d":0.20},{"v":2.53,"d":0.25},{"v":2.63,"d":0.15},{"v":2.28,"d":-0.10},{"v":2.52,"d":-0.25},{"v":2.62,"d":-0.30},{"v":2.72,"d":-0.25},{"v":2.20,"d":-0.15},{"v":2.12,"d":0.35},{"v":2.18,"d":0.55},{"v":2.28,"d":0.50},{"v":2.42,"d":0.60},{"v":2.55,"d":0.45},
{"v":2.36,"d":0.00},{"v":2.46,"d":-0.05},{"v":2.56,"d":-0.10},{"v":2.66,"d":-0.20},{"v":2.40,"d":-0.20},{"v":2.50,"d":0.15},{"v":2.60,"d":0.10},{"v":2.44,"d":-0.35},{"v":2.54,"d":-0.45},{"v":2.64,"d":-0.40},{"v":2.74,"d":-0.60},{"v":2.84,"d":-0.70},{"v":2.94,"d":-0.80},{"v":2.70,"d":-0.45},{"v":2.80,"d":-0.55},
{"v":2.62,"d":-0.45},{"v":2.65,"d":-0.60},{"v":2.68,"d":-0.20},{"v":2.70,"d":-0.50},{"v":2.72,"d":-0.75},{"v":2.74,"d":-0.35},{"v":2.76,"d":-0.55},{"v":2.78,"d":-0.10},{"v":2.80,"d":-0.65},{"v":2.82,"d":-0.40},{"v":2.84,"d":-0.85},{"v":2.86,"d":-0.25},{"v":2.88,"d":-0.55},{"v":2.90,"d":-0.70},{"v":2.92,"d":-0.35},{"v":2.94,"d":-0.95},{"v":2.96,"d":-0.50},{"v":2.98,"d":-0.20},{"v":3.00,"d":-0.75},{"v":3.02,"d":-0.45},{"v":3.04,"d":-0.60},{"v":3.06,"d":-1.00},{"v":3.08,"d":-0.30},{"v":3.10,"d":-0.80},{"v":3.12,"d":-0.55},{"v":3.15,"d":-0.70},{"v":3.18,"d":-0.90},{"v":3.20,"d":-0.40},{"v":3.22,"d":-1.05},{"v":3.25,"d":-0.65},{"v":3.28,"d":-0.85},{"v":3.30,"d":-1.10},
{"v":2.70,"d":-0.30},{"v":2.75,"d":-0.40},{"v":2.80,"d":-0.25},{"v":2.85,"d":-0.50},{"v":2.90,"d":-0.45},{"v":2.95,"d":-0.65},{"v":3.00,"d":-0.55},{"v":2.78,"d":-0.70},{"v":2.88,"d":-0.80},{"v":2.98,"d":-0.90},{"v":3.10,"d":-0.60},{"v":3.20,"d":-0.75},{"v":3.25,"d":-0.95},{"v":3.38,"d":-0.74},{"v":3.40,"d":-0.60},{"v":3.42,"d":-0.95},{"v":3.45,"d":-0.85},{"v":3.36,"d":-1.05},
{"v":2.72,"d":0.40},{"v":2.80,"d":0.25},{"v":2.88,"d":0.55},{"v":2.95,"d":0.15},{"v":3.00,"d":0.45},{"v":3.05,"d":0.35},{"v":3.10,"d":0.05},{"v":3.15,"d":0.25},{"v":3.15,"d":0.57},{"v":3.18,"d":0.40},{"v":2.85,"d":0.35},{"v":2.92,"d":0.62},
{"v":3.30,"d":0.25},{"v":3.32,"d":0.60},{"v":3.35,"d":0.85},{"v":3.38,"d":1.00},{"v":3.40,"d":0.40},{"v":3.42,"d":0.75},{"v":3.45,"d":1.10},{"v":3.48,"d":0.90},{"v":3.50,"d":0.55},{"v":3.52,"d":1.05},{"v":3.55,"d":0.70},{"v":3.58,"d":0.95},{"v":3.60,"d":0.45},{"v":3.62,"d":0.80},{"v":3.65,"d":0.60},{"v":3.68,"d":0.35},{"v":3.70,"d":0.70},{"v":3.72,"d":0.50},{"v":3.75,"d":0.25},{"v":3.78,"d":0.55},{"v":3.50,"d":0.30},{"v":3.55,"d":0.15},{"v":3.60,"d":0.20},{"v":3.40,"d":0.10},{"v":3.45,"d":0.00},
{"v":3.80,"d":0.30},{"v":3.82,"d":0.10},{"v":3.84,"d":-0.05},{"v":3.86,"d":0.20},{"v":3.88,"d":0.40},{"v":3.90,"d":0.05},{"v":3.92,"d":-0.15},{"v":3.94,"d":0.25},{"v":3.96,"d":0.10},{"v":3.98,"d":0.35},{"v":4.00,"d":0.00},{"v":4.02,"d":0.15},{"v":4.04,"d":-0.10},{"v":4.06,"d":0.30},{"v":4.08,"d":0.05},{"v":4.10,"d":0.20},{"v":4.12,"d":-0.20},{"v":4.14,"d":0.10},{"v":4.16,"d":0.35},{"v":4.18,"d":0.00},{"v":4.20,"d":0.15},{"v":4.22,"d":-0.05},{"v":4.24,"d":0.25},{"v":4.26,"d":0.05},{"v":4.28,"d":-0.15},{"v":4.30,"d":0.10},{"v":4.32,"d":0.30},{"v":4.34,"d":0.00},{"v":4.36,"d":-0.10},{"v":4.38,"d":0.15},{"v":4.40,"d":0.05},{"v":4.42,"d":-0.20},{"v":4.44,"d":0.10},{"v":4.46,"d":0.00},{"v":4.48,"d":-0.10},{"v":4.50,"d":0.05},{"v":4.52,"d":0.15},{"v":4.55,"d":-0.05},{"v":4.58,"d":0.00},{"v":4.62,"d":-0.10},{"v":4.65,"d":0.05},{"v":4.70,"d":-0.05},{"v":4.75,"d":0.00},{"v":4.80,"d":-0.15},{"v":4.85,"d":-0.30},
{"v":3.90,"d":0.15},{"v":4.00,"d":0.10},{"v":4.10,"d":0.05},{"v":4.20,"d":0.05},{"v":4.30,"d":0.00},{"v":4.40,"d":0.10},{"v":4.50,"d":-0.05},{"v":3.95,"d":0.20},{"v":4.05,"d":0.25},{"v":4.15,"d":0.15},{"v":4.25,"d":0.15},{"v":4.35,"d":0.05},{"v":4.45,"d":0.05},{"v":4.55,"d":0.05},{"v":3.85,"d":0.45},{"v":3.95,"d":0.55},{"v":4.05,"d":0.40},{"v":4.15,"d":0.45},
{"v":3.90,"d":0.00},{"v":4.00,"d":0.20},{"v":4.10,"d":-0.05},{"v":4.20,"d":0.20},{"v":4.30,"d":0.20},{"v":4.40,"d":-0.05},{"v":4.50,"d":0.10},{"v":4.60,"d":0.00},{"v":3.98,"d":0.05},{"v":4.08,"d":0.15},{"v":4.18,"d":-0.10},{"v":4.28,"d":0.05},{"v":4.38,"d":-0.15},{"v":4.48,"d":0.00},{"v":4.58,"d":-0.10},{"v":4.68,"d":0.05},
{"v":3.65,"d":-0.30},{"v":3.75,"d":-0.20},{"v":3.85,"d":-0.40},{"v":3.95,"d":-0.30},{"v":4.05,"d":-0.45},{"v":4.15,"d":-0.25},{"v":4.25,"d":-0.35},{"v":4.35,"d":-0.50},{"v":4.45,"d":-0.30},{"v":4.55,"d":-0.40},{"v":3.70,"d":-0.55},{"v":4.00,"d":-0.60},{"v":4.20,"d":-0.80},{"v":4.30,"d":-0.70},{"v":4.39,"d":-0.80},{"v":4.26,"d":-0.72},{"v":4.50,"d":-0.65},{"v":3.88,"d":-0.89},{"v":4.62,"d":-0.55},{"v":4.83,"d":-0.45},
{"v":0.12,"d":0.97},{"v":0.45,"d":-0.05},{"v":0.58,"d":0.87},{"v":0.66,"d":0.45},{"v":1.21,"d":1.45},{"v":1.53,"d":2.01},{"v":1.85,"d":1.74},{"v":1.82,"d":1.14},{"v":1.67,"d":0.98},{"v":1.37,"d":0.98},{"v":3.42,"d":1.40},{"v":3.52,"d":1.28},{"v":3.79,"d":1.08},{"v":4.06,"d":0.81},{"v":4.74,"d":0.37},{"v":4.55,"d":0.36},{"v":5.02,"d":-0.48},{"v":5.24,"d":-1.01},{"v":5.24,"d":-1.10},{"v":5.24,"d":-1.17},{"v":5.03,"d":-1.48},{"v":4.87,"d":-1.84},{"v":4.83,"d":-0.91},{"v":4.68,"d":-1.06},{"v":4.66,"d":-1.47},{"v":4.67,"d":-1.50},{"v":4.52,"d":-1.20},{"v":4.53,"d":-1.60},{"v":4.37,"d":-1.90},{"v":4.32,"d":-1.43},{"v":4.22,"d":-1.43},{"v":4.26,"d":-1.19},{"v":4.15,"d":-2.15},{"v":3.97,"d":-1.91},{"v":3.94,"d":-1.75},{"v":3.83,"d":-1.86},{"v":3.76,"d":-1.71},{"v":4.02,"d":-1.52},{"v":3.80,"d":-1.14},{"v":3.93,"d":-1.05},{"v":3.93,"d":-1.09},{"v":3.00,"d":-1.99},{"v":2.90,"d":-1.74},{"v":3.05,"d":-1.40},{"v":2.85,"d":-1.36},{"v":2.94,"d":-1.29},{"v":2.73,"d":-1.07},{"v":2.73,"d":-0.97},{"v":2.59,"d":-1.19},{"v":2.42,"d":-1.28},{"v":2.07,"d":-1.11},{"v":1.97,"d":-1.28},{"v":1.92,"d":-1.06},{"v":1.92,"d":-1.10},{"v":1.75,"d":-1.05},{"v":1.66,"d":-1.05},{"v":1.69,"d":-1.38},{"v":1.43,"d":-1.21},{"v":1.34,"d":-0.99},{"v":1.43,"d":-0.91},{"v":1.46,"d":-0.91},{"v":1.42,"d":-0.73},{"v":1.40,"d":-0.66},{"v":1.25,"d":-0.70},{"v":1.25,"d":-0.67},{"v":1.31,"d":-0.66},{"v":3.26,"d":-1.41},{"v":3.41,"d":-1.36},{"v":3.56,"d":-1.41},{"v":3.62,"d":-1.41},{"v":3.62,"d":-1.25},{"v":3.60,"d":-1.15},{"v":3.26,"d":-1.24},{"v":3.13,"d":-1.17},{"v":2.98,"d":-1.19},
{"v":2.10,"d":-0.55},{"v":2.20,"d":-0.70},{"v":2.30,"d":-0.60},{"v":2.40,"d":-0.85},{"v":2.50,"d":-0.50},{"v":2.55,"d":-0.75},{"v":2.07,"d":-0.83},{"v":2.35,"d":-0.50},{"v":1.95,"d":-0.45},{"v":1.80,"d":-0.65},{"v":1.60,"d":-0.55},{"v":2.45,"d":-0.65}]
},
"vconcat":[
{"hconcat":[
{"width":488,"height":344,
"title":{"text":"ΔT","subtitle":"\u200b\u2003\u2003\u2002\u2009eff","anchor":"start","frame":"group","orient":"top","dx":12,"offset":6,"font":"DejaVu Serif","fontSize":34,"fontWeight":"normal","color":"#000","subtitleFont":"DejaVu Serif","subtitleFontSize":17,"subtitleFontWeight":"bold","subtitleColor":"#000","subtitlePadding":-10},
"layer":[
{"data":{"name":"a"},"mark":{"type":"circle","size":28,"color":"#474747","opacity":1},
"encoding":{"x":{"field":"v","type":"quantitative","scale":{"domain":[3000,7000],"nice":false,"zero":false},"axis":{"orient":"bottom","values":[4000,5000,6000],"tickSize":-20,"labels":false,"title":null}},
"y":{"field":"d","type":"quantitative","scale":{"domain":[-1200,1200],"nice":false,"zero":false},"axis":{"orient":"left","values":[-1000,-500,0,500,1000],"tickSize":-20,"labelPadding":39,"format":"d","title":null}}}},
{"data":{"values":[{}]},"mark":{"type":"rule","color":"#ff0000","strokeWidth":2},
"encoding":{"x":{"datum":3000,"type":"quantitative","axis":{"orient":"top","values":[4000,5000,6000],"tickSize":-20,"labels":false,"title":null}},"x2":{"datum":7000},
"y":{"datum":0,"type":"quantitative","axis":{"orient":"right","values":[-1000,-500,0,500,1000],"tickSize":-20,"labels":false,"title":null}}}},
{"data":{"values":[{}]},"mark":{"type":"rule","color":"#ff0000","strokeWidth":2,"strokeDash":[17,12]},
"encoding":{"x":{"datum":3000,"type":"quantitative","axis":{"orient":"bottom","values":[3500,4500,5500,6500],"tickSize":-10,"labels":false,"title":null}},"x2":{"datum":7000},
"y":{"datum":250,"type":"quantitative","axis":{"orient":"left","values":[-1100,-900,-800,-700,-600,-400,-300,-200,-100,100,200,300,400,600,700,800,900,1100],"tickSize":-10,"labels":false,"title":null}}}},
{"data":{"values":[{}]},"mark":{"type":"rule","color":"#ff0000","strokeWidth":2,"strokeDash":[17,12]},
"encoding":{"x":{"datum":3000,"type":"quantitative","axis":{"orient":"top","values":[3200,3400,3600,3800,4200,4400,4600,4800,5200,5400,5600,5800,6200,6400,6600,6800],"tickSize":-10,"labels":false,"title":null}},"x2":{"datum":7000},
"y":{"datum":-250,"type":"quantitative","axis":{"orient":"right","values":[-1100,-900,-800,-700,-600,-400,-300,-200,-100,100,200,300,400,600,700,800,900,1100],"tickSize":-10,"labels":false,"title":null}}}},
{"data":{"values":[{}]},"mark":{"type":"text","text":["DR5","8 250 1405"],"align":"left","baseline":"alphabetic","font":"DejaVu Sans Mono","fontSize":22,"fontWeight":"bold","lineHeight":20,"color":"#000"},
"encoding":{"x":{"datum":3262,"type":"quantitative","axis":null},"y":{"datum":931,"type":"quantitative","axis":null}}}
],
"resolve":{"axis":{"x":"independent","y":"independent"}}},
{"width":471,"height":344,
"title":{"text":"Δlog 𝑔","subtitle":"\u200b\u2003","anchor":"start","frame":"group","orient":"top","dx":16,"offset":6,"font":"DejaVu Serif","fontSize":34,"fontWeight":"normal","color":"#000","subtitleFont":"DejaVu Serif","subtitleFontSize":17,"subtitleFontWeight":"bold","subtitleColor":"#000","subtitlePadding":-10},
"layer":[
{"data":{"name":"c"},"mark":{"type":"circle","size":28,"color":"#474747","opacity":1},
"encoding":{"x":{"field":"v","type":"quantitative","scale":{"domain":[0,6],"nice":false,"zero":false},"axis":{"orient":"bottom","values":[2,4],"tickSize":-20,"labels":false,"title":null}},
"y":{"field":"d","type":"quantitative","scale":{"domain":[-2.2,2.2],"nice":false,"zero":false},"axis":{"orient":"left","values":[-2,-1,0,1,2],"tickSize":-20,"labelPadding":39,"format":"d","title":null}}}},
{"data":{"values":[{}]},"mark":{"type":"rule","color":"#ff0000","strokeWidth":2},
"encoding":{"x":{"datum":0,"type":"quantitative","axis":{"orient":"top","values":[2,4],"tickSize":-20,"labels":false,"title":null}},"x2":{"datum":6},
"y":{"datum":0,"type":"quantitative","axis":{"orient":"right","values":[-2,-1,0,1,2],"tickSize":-20,"labels":false,"title":null}}}},
{"data":{"values":[{}]},"mark":{"type":"rule","color":"#ff0000","strokeWidth":2,"strokeDash":[17,12]},
"encoding":{"x":{"datum":0,"type":"quantitative","axis":{"orient":"bottom","values":[0.5,1,1.5,2.5,3,3.5,4.5,5,5.5],"tickSize":-10,"labels":false,"title":null}},"x2":{"datum":6},
"y":{"datum":0.2,"type":"quantitative","axis":{"orient":"left","values":[-1.8,-1.6,-1.4,-1.2,-0.8,-0.6,-0.4,-0.2,0.2,0.4,0.6,0.8,1.2,1.4,1.6,1.8],"tickSize":-10,"labels":false,"title":null}}}},
{"data":{"values":[{}]},"mark":{"type":"rule","color":"#ff0000","strokeWidth":2,"strokeDash":[17,12]},
"encoding":{"x":{"datum":0,"type":"quantitative","axis":{"orient":"top","values":[0.5,1,1.5,2.5,3,3.5,4.5,5,5.5],"tickSize":-10,"labels":false,"title":null}},"x2":{"datum":6},
"y":{"datum":-0.2,"type":"quantitative","axis":{"orient":"right","values":[-1.8,-1.6,-1.4,-1.2,-0.8,-0.6,-0.4,-0.2,0.2,0.4,0.6,0.8,1.2,1.4,1.6,1.8],"tickSize":-10,"labels":false,"title":null}}}},
{"data":{"values":[{}]},"mark":{"type":"text","text":"0.04 0.47 1405","align":"left","baseline":"alphabetic","font":"DejaVu Sans Mono","fontSize":22,"fontWeight":"bold","color":"#000"},
"encoding":{"x":{"datum":0.34,"type":"quantitative","axis":null},"y":{"datum":1.44,"type":"quantitative","axis":null}}}
],
"resolve":{"axis":{"x":"independent","y":"independent"}}}
],"spacing":11},
{"hconcat":[
{"width":488,"height":344,
"title":{"text":"T\u2003\u2002(K)","subtitle":"eff\u2003\u2003\u200b","anchor":"middle","frame":"group","orient":"bottom","offset":18,"font":"DejaVu Serif","fontSize":34,"fontWeight":"normal","color":"#000","subtitleFont":"Liberation Serif","subtitleFontSize":27,"subtitleFontWeight":"bold","subtitleColor":"#000","subtitlePadding":-17},
"layer":[
{"data":{"name":"b"},"mark":{"type":"circle","size":28,"color":"#474747","opacity":1},
"encoding":{"x":{"field":"v","type":"quantitative","scale":{"domain":[3000,7000],"nice":false,"zero":false},"axis":{"orient":"bottom","values":[4000,6000],"tickSize":-20,"labelPadding":38,"format":"d","title":null}},
"y":{"field":"d","type":"quantitative","scale":{"domain":[-1200,1200],"nice":false,"zero":false},"axis":{"orient":"left","values":[-1000,-500,0,500,1000],"tickSize":-20,"labelPadding":39,"format":"d","title":null}}}},
{"data":{"values":[{}]},"mark":{"type":"rule","color":"#ff0000","strokeWidth":2},
"encoding":{"x":{"datum":3000,"type":"quantitative","axis":{"orient":"top","values":[4000,5000,6000],"tickSize":-20,"labels":false,"title":null}},"x2":{"datum":7000},
"y":{"datum":0,"type":"quantitative","axis":{"orient":"right","values":[-1000,-500,0,500,1000],"tickSize":-20,"labels":false,"title":null}}}},
{"data":{"values":[{}]},"mark":{"type":"rule","color":"#ff0000","strokeWidth":2,"strokeDash":[17,12]},
"encoding":{"x":{"datum":3000,"type":"quantitative","axis":{"orient":"bottom","values":[3500,4500,5000,5500,6500],"tickSize":-10,"labels":false,"title":null}},"x2":{"datum":7000},
"y":{"datum":250,"type":"quantitative","axis":{"orient":"left","values":[-1100,-900,-800,-700,-600,-400,-300,-200,-100,100,200,300,400,600,700,800,900,1100],"tickSize":-10,"labels":false,"title":null}}}},
{"data":{"values":[{}]},"mark":{"type":"rule","color":"#ff0000","strokeWidth":2,"strokeDash":[17,12]},
"encoding":{"x":{"datum":3000,"type":"quantitative","axis":{"orient":"top","values":[3500,4500,5500,6500],"tickSize":-10,"labels":false,"title":null}},"x2":{"datum":7000},
"y":{"datum":-250,"type":"quantitative","axis":{"orient":"right","values":[-1100,-900,-800,-700,-600,-400,-300,-200,-100,100,200,300,400,600,700,800,900,1100],"tickSize":-10,"labels":false,"title":null}}}},
{"data":{"values":[{}]},"mark":{"type":"text","text":["RAVE-on","7 271 1912"],"align":"left","baseline":"alphabetic","font":"DejaVu Sans Mono","fontSize":22,"fontWeight":"bold","lineHeight":20,"color":"#000"},
"encoding":{"x":{"datum":3262,"type":"quantitative","axis":null},"y":{"datum":950,"type":"quantitative","axis":null}}}
],
"resolve":{"axis":{"x":"independent","y":"independent"}}},
{"width":471,"height":344,
"title":{"text":"log\u2002g\u2002\u2009(dex)","anchor":"middle","frame":"group","orient":"bottom","offset":18,"font":"DejaVu Serif","fontSize":34,"fontWeight":"normal","color":"#000"},
"layer":[
{"data":{"name":"d"},"mark":{"type":"circle","size":28,"color":"#474747","opacity":1},
"encoding":{"x":{"field":"v","type":"quantitative","scale":{"domain":[0,6],"nice":false,"zero":false},"axis":{"orient":"bottom","values":[0,2,4,6],"tickSize":-20,"labelPadding":38,"format":"d","title":null}},
"y":{"field":"d","type":"quantitative","scale":{"domain":[-2.2,2.2],"nice":false,"zero":false},"axis":{"orient":"left","values":[-2,-1,0,1,2],"tickSize":-20,"labelPadding":39,"format":"d","title":null}}}},
{"data":{"values":[{}]},"mark":{"type":"rule","color":"#ff0000","strokeWidth":2},
"encoding":{"x":{"datum":0,"type":"quantitative","axis":{"orient":"top","values":[2,4],"tickSize":-20,"labels":false,"title":null}},"x2":{"datum":6},
"y":{"datum":0,"type":"quantitative","axis":{"orient":"right","values":[-2,-1,0,1,2],"tickSize":-20,"labels":false,"title":null}}}},
{"data":{"values":[{}]},"mark":{"type":"rule","color":"#ff0000","strokeWidth":2,"strokeDash":[17,12]},
"encoding":{"x":{"datum":0,"type":"quantitative","axis":{"orient":"bottom","values":[0.5,1,1.5,2.5,3,3.5,4.5,5,5.5],"tickSize":-10,"labels":false,"title":null}},"x2":{"datum":6},
"y":{"datum":0.2,"type":"quantitative","axis":{"orient":"left","values":[-1.8,-1.6,-1.4,-1.2,-0.8,-0.6,-0.4,-0.2,0.2,0.4,0.6,0.8,1.2,1.4,1.6,1.8],"tickSize":-10,"labels":false,"title":null}}}},
{"data":{"values":[{}]},"mark":{"type":"rule","color":"#ff0000","strokeWidth":2,"strokeDash":[17,12]},
"encoding":{"x":{"datum":0,"type":"quantitative","axis":{"orient":"top","values":[0.5,1,1.5,2.5,3,3.5,4.5,5,5.5],"tickSize":-10,"labels":false,"title":null}},"x2":{"datum":6},
"y":{"datum":-0.2,"type":"quantitative","axis":{"orient":"right","values":[-1.8,-1.6,-1.4,-1.2,-0.8,-0.6,-0.4,-0.2,0.2,0.4,0.6,0.8,1.2,1.4,1.6,1.8],"tickSize":-10,"labels":false,"title":null}}}},
{"data":{"values":[{}]},"mark":{"type":"text","text":"0.0 0.55 1912","align":"left","baseline":"alphabetic","font":"DejaVu Sans Mono","fontSize":22,"fontWeight":"bold","color":"#000"},
"encoding":{"x":{"datum":0.34,"type":"quantitative","axis":null},"y":{"datum":1.48,"type":"quantitative","axis":null}}}
],
"resolve":{"axis":{"x":"independent","y":"independent"}}}
],"spacing":11}
],
"spacing":-7,
"config":{
"view":{"stroke":"#000","strokeWidth":2.5},
"axis":{"domain":false,"grid":false,"tickColor":"#000","tickWidth":2,"labelFont":"DejaVu Serif","labelFontSize":27,"labelColor":"#000","labelFlush":false,"labelOverlap":false}
}
}
